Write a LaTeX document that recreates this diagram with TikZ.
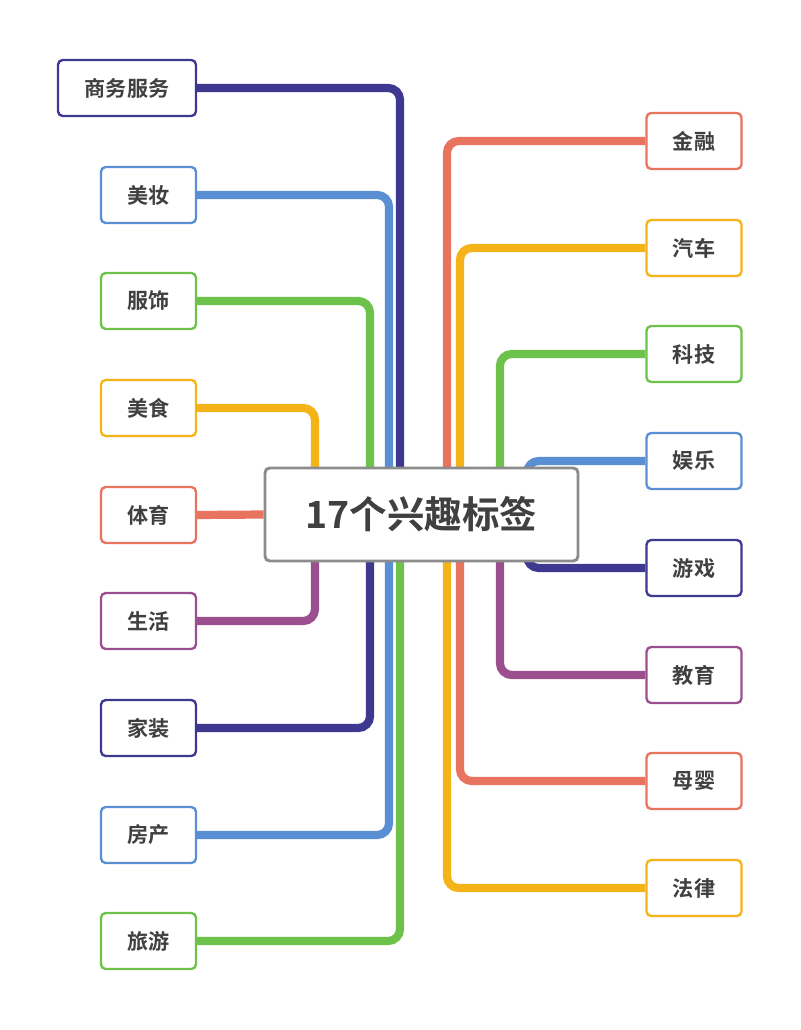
\documentclass[tikz,border=0pt]{standalone}
\usepackage{fontspec}
\newfontfamily\cjk{Noto Sans CJK SC}[BoldFont={Noto Sans CJK SC Bold}]
\begin{document}
\begin{tikzpicture}[x=0.03cm,y=-0.03cm,
 leaf/.style={draw=#1,fill=white,line width=2pt,rounded corners=4pt,minimum width=95*0.03cm,minimum height=56*0.03cm,font=\cjk\bfseries\fontsize{18}{21}\selectfont,text=black!75},
 br/.style={draw=#1,line width=7pt,rounded corners=10pt}]
\definecolor{cdp}{HTML}{3E3890}\definecolor{cbl}{HTML}{5B8FD4}\definecolor{cgr}{HTML}{6CC24A}
\definecolor{cor}{HTML}{F5B31A}\definecolor{csa}{HTML}{E8735F}\definecolor{cpu}{HTML}{9C4F8F}
\pgfdeclarelayer{bg}\pgfsetlayers{bg,main}
\useasboundingbox (0,0) rectangle (800,1030);
\node[draw=black!45,fill=white,line width=2.5pt,rounded corners=4pt,minimum width=313*0.03cm,minimum height=93*0.03cm,font=\cjk\bfseries\fontsize{32}{38}\selectfont,text=black!75] (c) at (421.5,514.5) {17个兴趣标签};
% left
\node[leaf=cdp,minimum width=138*0.03cm] (l1) at (127,88) {商务服务};
\node[leaf=cbl] (l2) at (148.5,195) {美妆};
\node[leaf=cgr] (l3) at (148.5,301) {服饰};
\node[leaf=cor] (l4) at (148.5,408) {美食};
\node[leaf=csa] (l5) at (148.5,515) {体育};
\node[leaf=cpu] (l6) at (148.5,621) {生活};
\node[leaf=cdp] (l7) at (148.5,728) {家装};
\node[leaf=cbl] (l8) at (148.5,835) {房产};
\node[leaf=cgr] (l9) at (148.5,941) {旅游};
% right
\node[leaf=csa] (r1) at (694,141) {金融};
\node[leaf=cor] (r2) at (694,248) {汽车};
\node[leaf=cgr] (r3) at (694,354) {科技};
\node[leaf=cbl] (r4) at (694,461) {娱乐};
\node[leaf=cdp] (r5) at (694,568) {游戏};
\node[leaf=cpu] (r6) at (694,675) {教育};
\node[leaf=csa] (r7) at (694,781) {母婴};
\node[leaf=cor] (r8) at (694,888) {法律};
\begin{pgfonlayer}{bg}
\draw[br=cdp] (l1.east) -| (400,500);
\draw[br=cbl] (l2.east) -| (389,500);
\draw[br=cgr] (l3.east) -| (370,500);
\draw[br=cor] (l4.east) -| (315,500);
\draw[br=csa] (l5.east) -- (c.west);
\draw[br=cpu] (l6.east) -| (315,530);
\draw[br=cdp] (l7.east) -| (370,530);
\draw[br=cbl] (l8.east) -| (389,530);
\draw[br=cgr] (l9.east) -| (400,530);
\draw[br=csa] (r1.west) -| (447,500);
\draw[br=cor] (r2.west) -| (460,500);
\draw[br=cgr] (r3.west) -| (500,500);
\draw[br=cbl] (r4.west) -| (527,500);
\draw[br=cdp] (r5.west) -| (527,530);
\draw[br=cpu] (r6.west) -| (500,530);
\draw[br=csa] (r7.west) -| (460,530);
\draw[br=cor] (r8.west) -| (447,530);
\end{pgfonlayer}
\end{tikzpicture}
\end{document}
